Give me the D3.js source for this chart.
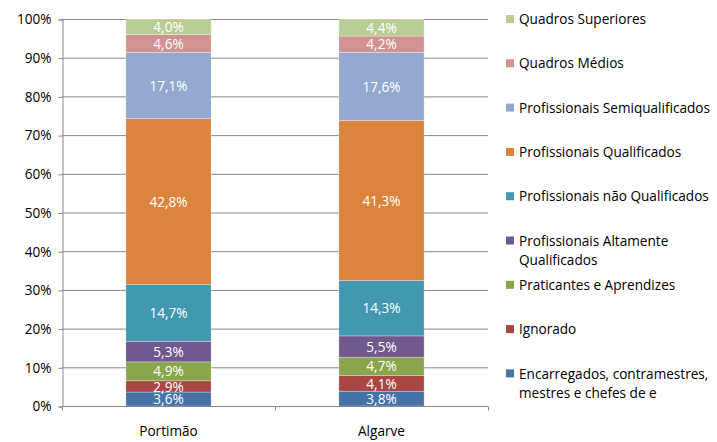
<!DOCTYPE html>
<html>
<head>
<meta charset="utf-8">
<script src="https://cdn.jsdelivr.net/npm/d3@7"></script>
<style>
  body { margin: 0; background: #fff; }
  text { font-family: "Open Sans", sans-serif; }
</style>
</head>
<body>
<svg id="chart" width="717" height="442"></svg>
<script>
// regions on the x axis
var regions = ["Portimão", "Algarve"];

// categories, bottom of the stack first
var categories = [
  "Encarregados, contramestres,\nmestres e chefes de e",
  "Ignorado",
  "Praticantes e Aprendizes",
  "Profissionais Altamente\nQualificados",
  "Profissionais não Qualificados",
  "Profissionais Qualificados",
  "Profissionais Semiqualificados",
  "Quadros Médios",
  "Quadros Superiores"
];

// percentages, same order as categories
var portimao = [3.6, 2.9, 4.9, 5.3, 14.7, 42.8, 17.1, 4.6, 4.0];
var algarve  = [3.8, 4.1, 4.7, 5.5, 14.3, 41.3, 17.6, 4.2, 4.4];

var colors = ["#4572A7", "#AA4643", "#89A54E", "#71588F", "#4198AF",
              "#DB843D", "#93A9CF", "#D19392", "#B9CD96"];

var yTicks = [0, 0.1, 0.2, 0.3, 0.4, 0.5, 0.6, 0.7, 0.8, 0.9, 1];

var svg = d3.select("#chart");
var mLeft = 62, mRight = 488, mTop = 19, mBottom = 406;
var fs = "13.6px";

// build table for the stack
var table = regions.map(function(r, i){
  var row = {region: r};
  var vals = i == 0 ? portimao : algarve;
  categories.forEach(function(c, j){ row[c] = vals[j]; });
  return row;
});

var stack = d3.stack().keys(categories).offset(d3.stackOffsetExpand);
var series = stack(table);

var x = d3.scaleBand().domain(regions).range([mLeft, mRight]).paddingInner(0.6).paddingOuter(0.3);
var y = d3.scaleLinear().domain([0, 1]).range([mBottom, mTop]);

var fmt = function(v){ return v.toFixed(1).replace(".", ",") + "%"; };

// gridlines
svg.append("g").selectAll("line")
   .data(yTicks.filter(function(d){ return d > 0; }))
   .enter().append("line")
   .attr("x1", mLeft).attr("x2", mRight)
   .attr("y1", function(d){ return y(d) + 0.5; })
   .attr("y2", function(d){ return y(d) + 0.5; })
   .attr("stroke", "#888").attr("stroke-width", 1);

// y axis
var yAxis = svg.append("g")
   .attr("transform", "translate(" + (mLeft + 0.5) + ",0.5)")
   .call(d3.axisLeft(y).tickValues(yTicks).tickFormat(d3.format(".0%")).tickSize(4).tickPadding(7));
yAxis.selectAll("path, line").attr("stroke", "#888");
yAxis.selectAll("text").attr("font-size", fs).attr("fill", "#000")
     .style("font-family", "'Open Sans', sans-serif");

// bars
var layers = svg.append("g").selectAll("g")
   .data(series).enter().append("g")
   .attr("fill", function(d, i){ return colors[i]; });

layers.selectAll("rect")
   .data(function(d){ return d; })
   .enter().append("rect")
   .attr("x", function(d){ return x(d.data.region); })
   .attr("width", x.bandwidth())
   .attr("y", function(d){ return y(d[1]); })
   .attr("height", function(d){ return y(d[0]) - y(d[1]); })
   .attr("stroke", "rgba(255,255,255,0.35)").attr("stroke-width", 0.8);

// data labels
series.forEach(function(s, i){
  svg.append("g").selectAll("text")
     .data(s).enter().append("text")
     .attr("x", function(d){ return x(d.data.region) + x.bandwidth() / 2; })
     .attr("y", function(d){ return (y(d[0]) + y(d[1])) / 2; })
     .attr("dy", "0.38em")
     .attr("text-anchor", "middle")
     .attr("font-size", fs)
     .attr("fill", "#fff")
     .text(function(d){ return fmt(d.data[s.key]); });
});

// x axis
var xAxis = svg.append("g")
   .attr("transform", "translate(0," + (mBottom + 0.5) + ")");
xAxis.append("line").attr("x1", mLeft).attr("x2", mRight).attr("stroke", "#888");
var bounds = [mLeft, (mLeft + mRight) / 2, mRight];
xAxis.selectAll(".tk").data(bounds).enter().append("line")
   .attr("x1", function(d){ return d + 0.5; }).attr("x2", function(d){ return d + 0.5; })
   .attr("y1", 0).attr("y2", 4).attr("stroke", "#888");
xAxis.selectAll("text").data(regions).enter().append("text")
   .attr("x", function(d){ return x(d) + x.bandwidth() / 2; })
   .attr("y", 29)
   .attr("text-anchor", "middle")
   .attr("font-size", fs)
   .text(function(d){ return d; });

// legend, top item is the last category
var legend = svg.append("g");
var legendItems = categories.slice().reverse();
legendItems.forEach(function(c, i){
  var cy = 19 + i * 44.3;
  var ci = categories.length - 1 - i;
  legend.append("rect")
     .attr("x", 506).attr("y", cy - 4)
     .attr("width", 8).attr("height", 8)
     .attr("fill", colors[ci]);
  var t = legend.append("text")
     .attr("x", 519).attr("y", cy)
     .attr("font-size", fs);
  c.split("\n").forEach(function(line, k){
    t.append("tspan").attr("x", 519).attr("dy", k == 0 ? "0.38em" : "19px").text(line);
  });
});
</script>
</body>
</html>
